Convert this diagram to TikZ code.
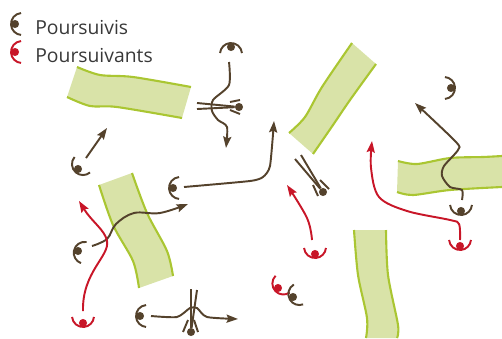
\documentclass[tikz,border=0pt]{standalone}
\usepackage{fontspec}
\setmainfont{Open Sans}
\usetikzlibrary{arrows.meta}
\usetikzlibrary{backgrounds}
\pgfdeclarelayer{edgelayer}
\pgfdeclarelayer{nodelayer}
\pgfsetlayers{background,edgelayer,nodelayer,main}
\definecolor{brn}{RGB}{84,66,44}
\definecolor{rd}{RGB}{200,22,40}
\definecolor{bandfill}{RGB}{217,227,168}
\definecolor{bandedge}{RGB}{170,198,50}
\tikzstyle{none}=[inner sep=0mm]
\tikzstyle{bn}=[inner sep=0pt,minimum width=4.6pt,fill=brn,draw=none,shape=circle]
\tikzstyle{rn}=[inner sep=0pt,minimum width=4.6pt,fill=rd,draw=none,shape=circle]
\tikzstyle{be}=[draw=brn,line width=1.1pt]
\tikzstyle{re}=[draw=rd,line width=1.1pt]
\tikzstyle{tip}=[-{Stealth[length=6.5pt,width=4.6pt,inset=1pt]}]
\tikzstyle{lab}=[inner sep=0pt,anchor=base west,text=black!78,font=\fontsize{11}{13}\selectfont]
\tikzset{
	bc/.style={color=brn,line width=1.1pt},
	rc/.style={color=rd,line width=1.1pt},
	eyearc/.pic={\draw[x=0.02cm,y=0.02cm] (7,0)++(95:11) arc (95:265:11);}
}
\newcommand{\band}[2]{
	\fill[bandfill] plot[smooth] coordinates {#1} -- plot[smooth] coordinates {#2} -- cycle;
	\draw[bandedge,line width=1.2pt] plot[smooth] coordinates {#1};
	\draw[bandedge,line width=1.2pt] plot[smooth] coordinates {#2};
}

\begin{document}
\begin{tikzpicture}[x=0.02cm,y=-0.02cm]
	\useasboundingbox (0,0) rectangle (502,338);
	\begin{pgfonlayer}{background}
		\band{(77,67) (100,75) (133,77) (191,87)}{(182,118) (117,107) (90,106) (67,97)}
		\band{(352,43) (322,87) (305,117) (289,133)}{(313,154) (333,125) (350,100) (376,64)}
		\band{(398,161) (417,164) (450,158) (483,157) (502,156)}{(502,187) (450,190) (413,195) (397,192)}
		\band{(354,230) (358,275) (367,318) (366,338)}{(397,338) (398,325) (388,275) (386,230)}
		\band{(99,185) (113,225) (133,261) (139,288)}{(173,276) (167,251) (147,213) (132,173)}
	\end{pgfonlayer}
	\begin{pgfonlayer}{nodelayer}
		\node [style=bn] (1) at (15,24) {};
		\node [style=rn] (2) at (15,52) {};
		\node [style=lab] (3) at (35,34) {Poursuivis};
		\node [style=lab] (4) at (35,62) {Poursuivants};
		\node [style=bn] (5) at (231,47) {};
		\node [style=bn] (6) at (239,107) {};
		\node [style=bn] (7) at (78,169) {};
		\node [style=bn] (8) at (173,188) {};
		\node [style=bn] (9) at (78,251) {};
		\node [style=rn] (10) at (83,323) {};
		\node [style=bn] (11) at (140,316) {};
		\node [style=bn] (12) at (191,332) {};
		\node [style=bn] (13) at (323,192) {};
		\node [style=bn] (14) at (451,88) {};
		\node [style=bn] (15) at (461,211) {};
		\node [style=rn] (16) at (460,246) {};
		\node [style=rn] (17) at (315,254) {};
		\node [style=rn] (18) at (278,288) {};
		\node [style=bn] (19) at (293,297) {};
		\node [style=none] (20) at (229,62) {};
		\node [style=none] (21) at (226,148) {};
		\node [style=none] (22) at (86,158) {};
		\node [style=none] (23) at (107,128) {};
		\node [style=none] (24) at (184,187) {};
		\node [style=none] (25) at (274,121) {};
		\node [style=none] (26) at (92,246) {};
		\node [style=none] (27) at (188,204) {};
		\node [style=none] (28) at (83,311) {};
		\node [style=none] (29) at (79,201) {};
		\node [style=none] (30) at (151,316) {};
		\node [style=none] (31) at (238,319) {};
		\node [style=none] (32) at (462,200) {};
		\node [style=none] (33) at (415,103) {};
		\node [style=none] (34) at (460,240) {};
		\node [style=none] (35) at (372,141) {};
		\node [style=none] (36) at (312,240) {};
		\node [style=none] (37) at (287,185) {};
		\node [style=none] (38) at (197,103) {};
		\node [style=none] (39) at (197,109) {};
		\node [style=none] (40) at (191,289) {};
		\node [style=none] (41) at (197,290) {};
		\node [style=none] (42) at (295,159) {};
		\node [style=none] (43) at (301,155) {};
		\node [style=none] (44) at (230,102) {};
		\node [style=none] (45) at (240,100) {};
		\node [style=none] (46) at (230,110) {};
		\node [style=none] (47) at (240,114) {};
		\node [style=none] (48) at (183,332) {};
		\node [style=none] (49) at (188,320) {};
		\node [style=none] (50) at (198,332) {};
		\node [style=none] (51) at (194,320) {};
		\node [style=none] (52) at (318,196) {};
		\node [style=none] (53) at (313,185) {};
		\node [style=none] (54) at (329,189) {};
		\node [style=none] (55) at (320,180) {};
		\pic [bc] at (1) {eyearc};
		\pic [rc] at (2) {eyearc};
		\pic [bc,rotate=-90] at (5) {eyearc};
		\pic [bc,rotate=45] at (7) {eyearc};
		\pic [bc] at (8) {eyearc};
		\pic [bc,rotate=-15] at (9) {eyearc};
		\pic [rc,rotate=90] at (10) {eyearc};
		\pic [bc] at (11) {eyearc};
		\pic [bc,rotate=180] at (14) {eyearc};
		\pic [bc,rotate=90] at (15) {eyearc};
		\pic [rc,rotate=90] at (16) {eyearc};
		\pic [rc,rotate=90] at (17) {eyearc};
		\pic [rc,rotate=40] at (18) {eyearc};
		\pic [bc,rotate=25] at (19) {eyearc};
	\end{pgfonlayer}
	\begin{pgfonlayer}{edgelayer}
		\draw[style=be,style=tip] plot[smooth,tension=.45] coordinates {(20.center) (229,85) (213,100) (212,111) (218,120) (227,127) (21.center)};
		\draw[style=be,style=tip] (22.center) to (23.center);
		\draw[style=be,style=tip] plot[smooth,tension=.35] coordinates {(24.center) (250,181) (263,177) (270,166) (25.center)};
		\draw[style=be,style=tip] plot[smooth,tension=.6] coordinates {(26.center) (107,239) (116,224) (134,213) (160,213) (27.center)};
		\draw[style=re,style=tip] (28.center) .. controls (82,272) and (110,256) .. (107,241) .. controls (105,230) and (92,222) .. (29.center);
		\draw[style=be,style=tip] plot[smooth,tension=.4] coordinates {(30.center) (177,317) (190,308) (197,308) (207,317) (31.center)};
		\draw[style=be,style=tip] plot[smooth,tension=.45] coordinates {(32.center) (462,190) (450,187) (442,176) (444,166) (458,150) (456,142) (33.center)};
		\draw[style=re,style=tip] plot[smooth,tension=.55] coordinates {(34.center) (459,224) (450,220) (407,211) (379,197) (371,168) (35.center)};
		\draw[style=re,style=tip] plot[smooth,tension=.6] coordinates {(36.center) (307,218) (37.center)};
		\draw[style=be] (6) to (38.center);
		\draw[style=be] (6) to (39.center);
		\draw[style=be] (44.center) to (45.center);
		\draw[style=be] (46.center) to (47.center);
		\draw[style=be] (12) to (40.center);
		\draw[style=be] (12) to (41.center);
		\draw[style=be] (48.center) to (49.center);
		\draw[style=be] (50.center) to (51.center);
		\draw[style=be] (13) to (42.center);
		\draw[style=be] (13) to (43.center);
		\draw[style=be] (52.center) to (53.center);
		\draw[style=be] (54.center) to (55.center);
	\end{pgfonlayer}
\end{tikzpicture}
\end{document}
